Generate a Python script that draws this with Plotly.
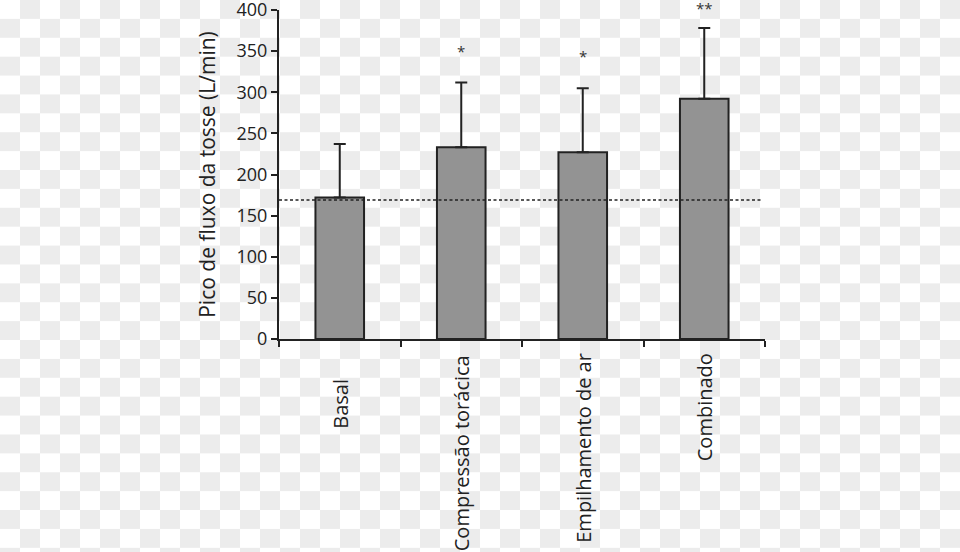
import plotly.graph_objects as go

categories = ["Basal", "Compressão torácica", "Empilhamento de ar", "Combinado"]
means = [172, 233, 227, 292]
sd_upper = [65, 79, 78, 86]
significance = ["", "*", "*", "**"]
sig_y = [None, 350, 344, 402]
reference_line = 169
y_ticks = [0, 50, 100, 150, 200, 250, 300, 350, 400]
y_range = [0, 400]

W, H = 960, 552
L, R, T, B = 279, 195, 10, 213
PW, PH = W - L - R, H - T - B

# pixel offset (from top of figure) where each rotated category label starts
label_top_px = [378, 354, 352, 352]

FONT = "Open Sans"
ink = "#222222"


def px_x(px):
    return (px - L) / PW


def px_y(py):
    return (H - B - py) / PH


# transparency checkerboard background (decoration)
shapes = []
cw, ch = 20, 18.89
row = 0
y0 = 0.0
while y0 < H:
    col = 0
    x0 = 0
    while x0 < W:
        if (row + col) % 2 == 1:
            shapes.append(dict(type="rect", xref="paper", yref="paper",
                               x0=px_x(x0), x1=px_x(x0 + cw),
                               y0=px_y(y0 + ch), y1=px_y(y0),
                               fillcolor="#ececec", line=dict(width=0),
                               layer="below"))
        x0 += cw
        col += 1
    y0 += ch
    row += 1

shapes.append(dict(type="line", xref="paper", yref="y", x0=0, x1=0.993,
                   y0=reference_line, y1=reference_line,
                   line=dict(color=ink, width=1.6, dash="3px,2.5px"), layer="above"))

fig = go.Figure()
fig.add_trace(go.Bar(
    x=categories, y=means, width=0.4,
    marker=dict(color="#939393", line=dict(color=ink, width=2)),
    error_y=dict(type="data", symmetric=False, array=sd_upper,
                 arrayminus=[0] * len(means), color=ink, thickness=2, width=6),
    showlegend=False,
))

# significance marks (paper y derived from the axis range so marks above 400 still show)
for c, s, v in zip(categories, significance, sig_y):
    if s:
        fig.add_annotation(x=c, xref="x",
                           y=(v - y_range[0]) / (y_range[1] - y_range[0]), yref="paper",
                           text=s, showarrow=False, yanchor="middle",
                           font=dict(family=FONT, size=15, color="#333333"))

for c, top in zip(categories, label_top_px):
    fig.add_annotation(x=c, xref="x", y=px_y(top), yref="paper", text=c,
                       textangle=-90, showarrow=False, xanchor="center",
                       yanchor="top", borderpad=0,
                       font=dict(family=FONT, size=20, color=ink))

fig.update_layout(
    width=W, height=H,
    margin=dict(l=L, r=R, t=T, b=B, autoexpand=False),
    paper_bgcolor="white", plot_bgcolor="rgba(0,0,0,0)",
    font=dict(family=FONT, size=18, color=ink),
    shapes=shapes,
)
fig.update_xaxes(
    range=[-0.5, 3.5], showline=True, linecolor=ink, linewidth=2,
    ticks="outside", tickson="boundaries", ticklen=6, tickwidth=2, tickcolor=ink,
    showticklabels=False, showgrid=False, zeroline=False, automargin=False,
)
fig.update_yaxes(
    range=y_range, tickvals=y_ticks, showline=True, linecolor=ink, linewidth=2,
    ticks="outside", ticklen=6, tickwidth=2, tickcolor=ink, showgrid=False,
    zeroline=False, ticklabeloverflow="allow", automargin=False,
    tickfont=dict(family=FONT, size=18, color=ink),
    title=dict(text="Pico de fluxo da tosse (L/min)", standoff=15,
               font=dict(family=FONT, size=21, color=ink)),
)

fig.write_html("out.html")
